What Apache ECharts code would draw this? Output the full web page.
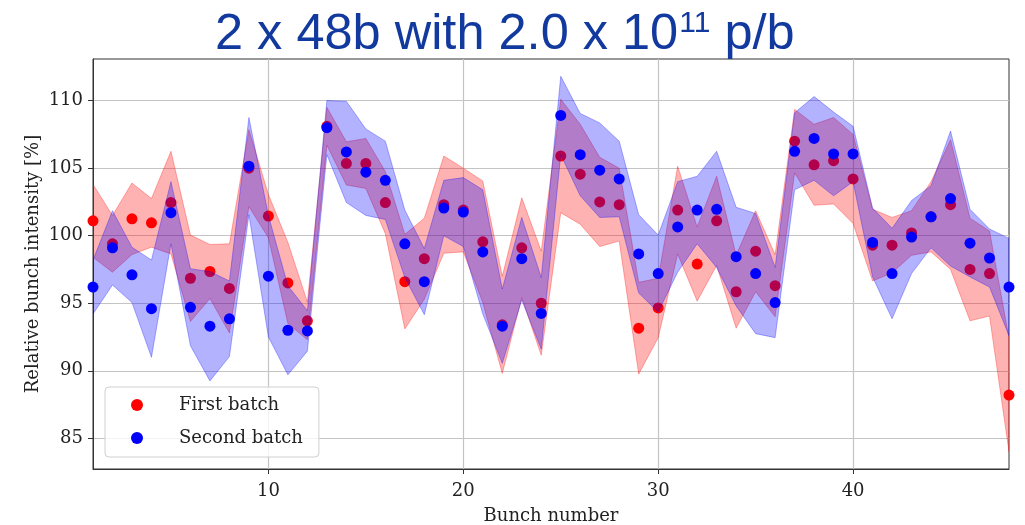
<!DOCTYPE html>
<html>
<head>
<meta charset="utf-8">
<script src="https://cdn.jsdelivr.net/npm/echarts@6/dist/echarts.min.js"></script>
<style>html,body{margin:0;padding:0;background:#fff}#c{width:1025px;height:525px}</style>
</head>
<body>
<div id="c"></div>
<script>
const bunches = [1,2,3,4,5,6,7,8,9,10,11,12,13,14,15,16,17,18,19,20,21,22,23,24,25,26,27,28,29,30,31,32,33,34,35,36,37,38,39,40,41,42,43,44,45,46,47,48];
const xTicks = [10,20,30,40];
const yTicks = [85,90,95,100,105,110];

const firstMean = [101.1,99.4,101.25,100.95,102.45,96.85,97.35,96.1,105.0,101.45,96.5,93.7,108.1,105.35,105.35,102.45,96.6,98.3,102.3,101.9,99.55,93.4,99.1,95.0,105.9,104.55,102.5,102.3,93.15,94.65,101.9,97.9,101.1,95.85,98.85,96.3,107.0,105.25,105.55,104.2,99.3,99.3,100.2,101.4,102.3,97.5,97.2,88.2];
const firstStd = [2.7,2.1,2.65,1.8,3.8,3.2,2.0,3.3,2.85,1.6,3.0,1.4,1.4,1.6,1.85,2.3,3.5,3.0,3.6,3.1,4.5,3.6,3.7,3.85,4.2,3.7,3.3,2.7,3.4,2.2,3.25,2.75,3.3,2.7,3.0,2.3,2.35,3.0,3.2,3.3,2.65,2.05,1.65,2.6,4.8,3.8,3.15,4.2];
const secondMean = [96.2,99.1,97.1,94.6,101.7,94.7,93.3,93.85,105.15,97.0,93.0,92.95,108.0,106.2,104.7,104.1,99.4,96.6,102.05,101.75,98.8,93.3,98.3,94.25,108.9,106.0,104.85,104.2,98.65,97.2,100.65,101.9,101.95,98.45,97.2,95.05,106.25,107.2,106.05,106.05,99.5,97.2,99.9,101.4,102.75,99.45,98.35,96.2];
const secondStd = [2.0,2.75,2.05,3.6,2.3,2.85,4.05,2.8,3.6,4.5,3.3,1.5,2.0,3.75,3.2,2.9,2.5,2.45,2.05,2.55,4.6,2.75,3.05,2.65,2.9,3.05,3.5,2.8,2.9,2.85,3.35,2.5,4.3,3.65,4.45,2.6,2.85,3.1,3.1,2.05,2.55,3.35,2.7,2.3,5.0,2.5,2.15,3.6];

const serif = 'DejaVu Serif';
function pts(arr){ return bunches.map((b,i)=>[b, arr[i]]); }
function bandData(m,s){ return bunches.map((b,i)=>[b, m[i]-s[i], m[i]+s[i]]); }

function bandSeries(m, s, rgb, z){
  const data = bandData(m,s);
  return {
    type:'custom', data:data, z:z, silent:true, clip:true,
    encode:{x:0, y:[1,2]},
    renderItem:function(params, api){
      if (params.dataIndex !== 0) return null;
      const up = data.map(d=>api.coord([d[0], d[2]]));
      const lo = data.map(d=>api.coord([d[0], d[1]])).reverse();
      return {
        type:'polygon',
        shape:{points: up.concat(lo)},
        style:{fill:'rgba('+rgb+',0.3)', stroke:'rgba('+rgb+',0.3)', lineWidth:1}
      };
    }
  };
}

const chart = echarts.init(document.getElementById('c'), null, {renderer:'canvas'});
chart.setOption({
  animation:false,
  backgroundColor:'#fff',
  title:{
    left:210, top:4,
    text:'{a|2 x 48b with 2.0 x 10}{s|11}{a| p/b}',
    textStyle:{
      fontWeight:'normal',
      rich:{
        a:{fontFamily:'Liberation Sans', fontWeight:'normal', fontSize:50.5, color:'#12399e', lineHeight:52, verticalAlign:'bottom'},
        s:{fontFamily:'Liberation Sans', fontWeight:'normal', fontSize:30, color:'#12399e', lineHeight:52, verticalAlign:'top', padding:[0,0,0,1]}
      }
    }
  },
  grid:{left:93, right:16, top:59, bottom:56, outerBoundsMode:'none', containLabel:false, show:true, borderColor:'#333', borderWidth:1, backgroundColor:'transparent'},
  legend:{
    orient:'vertical', left:105, top:387,
    padding:[8,16,9,26], itemGap:13, itemWidth:12, itemHeight:12,
    icon:'circle',
    backgroundColor:'rgba(255,255,255,0.8)', borderColor:'#d0d0d0', borderWidth:1, borderRadius:4,
    textStyle:{fontFamily:serif, fontSize:18, color:'#222', lineHeight:20, padding:[0,0,0,31]},
    data:['First batch','Second batch']
  },
  xAxis:{
    type:'value', min:1, max:48,
    name:'Bunch number', nameLocation:'middle', nameGap:38, nameMoveOverlap:false,
    nameTextStyle:{fontFamily:serif, fontSize:18, color:'#222'},
    axisLine:{show:true, lineStyle:{color:'#333'}},
    axisTick:{show:true, customValues:xTicks, length:5, lineStyle:{color:'#333'}},
    axisLabel:{customValues:xTicks, fontFamily:serif, fontSize:18, color:'#222', margin:13},
    splitLine:{show:true, lineStyle:{color:'#c4c4c4', width:1.2}}
  },
  yAxis:{
    type:'value', min:82.73, max:113.08,
    name:'Relative bunch intensity [%]', nameLocation:'middle', nameGap:51, nameMoveOverlap:false,
    nameTextStyle:{fontFamily:serif, fontSize:18, color:'#222'},
    axisLine:{show:true, lineStyle:{color:'#333'}},
    axisTick:{show:true, customValues:yTicks, length:5, lineStyle:{color:'#333'}},
    axisLabel:{customValues:yTicks, fontFamily:serif, fontSize:18, color:'#222', margin:10},
    splitLine:{show:true, lineStyle:{color:'#c4c4c4', width:1.2}}
  },
  series:[
    bandSeries(firstMean, firstStd, '255,0,0', 1),
    {type:'scatter', name:'First batch', data:pts(firstMean), symbolSize:11, z:2,
     itemStyle:{color:'#ff0000', opacity:1}},
    bandSeries(secondMean, secondStd, '0,0,255', 3),
    {type:'scatter', name:'Second batch', data:pts(secondMean), symbolSize:11, z:4,
     itemStyle:{color:'#0000ff', opacity:1}}
  ]
});
</script>
</body>
</html>
